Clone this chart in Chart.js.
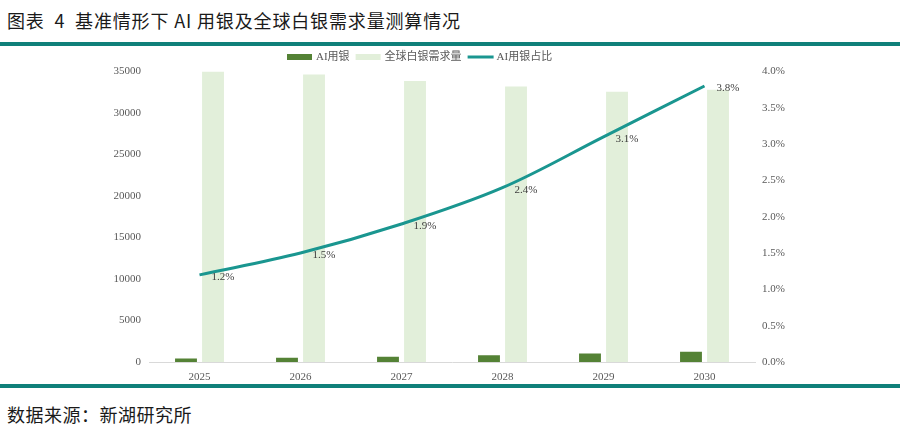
<!DOCTYPE html>
<html>
<head>
<meta charset="utf-8">
<script src="https://cdn.jsdelivr.net/npm/chart.js@4.4.0/dist/chart.umd.min.js"></script>
<style>
  html, body { margin: 0; padding: 0; background: #fff; }
  #page { position: relative; width: 900px; height: 426px; overflow: hidden; }
  .title { position: absolute; left: 7px; top: 7px; font: 18px "Noto Sans CJK SC", "Noto Sans", sans-serif; letter-spacing: 0.85px; color: #1a1a1a; line-height: 26px; white-space: pre; }
  .rule { position: absolute; left: 0; width: 900px; height: 4px; background: #10807a; }
  .source { position: absolute; left: 7px; top: 401px; font: 18px "Noto Sans CJK SC", sans-serif; letter-spacing: 0.5px; color: #1a1a1a; line-height: 26px; white-space: nowrap; }
  #wrap { position: absolute; left: 0; top: 46px; width: 900px; height: 338px; }
</style>
</head>
<body>
<div id="page">
  <div class="title">图表  4  基准情形下 AI 用银及全球白银需求量测算情况</div>
  <div class="rule" style="top:42px"></div>
  <div id="wrap"><canvas id="myChart"></canvas></div>
  <div class="rule" style="top:384px"></div>
  <div class="source">数据来源：新湖研究所</div>
</div>
<script>
const years = ["2025", "2026", "2027", "2028", "2029", "2030"];
const aiSilver = [420, 520, 640, 800, 1010, 1250];
const totalSilver = [35000, 34650, 33850, 33200, 32550, 32800];
const aiShare = [1.2, 1.5, 1.9, 2.4, 3.1, 3.8];
const seriesNames = ["AI用银", "全球白银需求量", "AI用银占比"];

const tickFont = { family: "'Liberation Serif', 'Noto Sans CJK SC', serif", size: 11 };
const textFont = "11px 'Liberation Serif', 'Noto Sans CJK SC', serif";

// legend drawn by hand so it can sit where the original sits
const legendPlugin = {
  id: "ownLegend",
  afterDraw(chart) {
    const ctx = chart.ctx;
    let x = 287;
    const y = 11;
    ctx.save();
    ctx.font = textFont;
    ctx.textBaseline = "middle";
    chart.data.datasets.forEach((ds) => {
      if (ds.type === "line") {
        ctx.strokeStyle = ds.borderColor;
        ctx.lineWidth = 3;
        ctx.beginPath();
        ctx.moveTo(x, y);
        ctx.lineTo(x + 26, y);
        ctx.stroke();
      } else {
        ctx.fillStyle = ds.backgroundColor;
        ctx.fillRect(x, y - 3, 25, 6);
      }
      x += 29;
      ctx.fillStyle = "#595959";
      ctx.fillText(ds.label, x, y + 0.5);
      x += ctx.measureText(ds.label).width + 6;
    });
    ctx.restore();
  },
};

// percentage labels beside the line points
const pointLabels = {
  id: "pointLabels",
  afterDatasetsDraw(chart) {
    const ctx = chart.ctx;
    const meta = chart.getDatasetMeta(2);
    ctx.save();
    ctx.font = textFont;
    ctx.fillStyle = "#404040";
    ctx.textBaseline = "middle";
    meta.data.forEach((pt, i) => {
      ctx.fillText(aiShare[i].toFixed(1) + "%", pt.x + 12, pt.y + 2);
    });
    ctx.restore();
  },
};

new Chart("myChart", {
  data: {
    labels: years,
    datasets: [
      {
        type: "bar",
        label: seriesNames[0],
        data: aiSilver,
        backgroundColor: "#548235",
        yAxisID: "y",
        order: 2,
      },
      {
        type: "bar",
        label: seriesNames[1],
        data: totalSilver,
        backgroundColor: "#e2efda",
        yAxisID: "y",
        order: 3,
      },
      {
        type: "line",
        label: seriesNames[2],
        data: aiShare,
        borderColor: "#1a9690",
        borderWidth: 3,
        pointRadius: 0,
        tension: 0.35,
        yAxisID: "y1",
        order: 1,
      },
    ],
  },
  options: {
    animation: false,
    responsive: true,
    maintainAspectRatio: false,
    layout: { padding: { top: 25.5, left: 0, right: 0, bottom: 0 } },
    datasets: {
      bar: { categoryPercentage: 0.535, barPercentage: 0.81 },
    },
    plugins: {
      legend: { display: false },
      tooltip: { enabled: false },
    },
    scales: {
      x: {
        grid: { display: false, drawTicks: false },
        border: { display: true, color: "#d9d9d9", width: 1 },
        ticks: { color: "#595959", font: tickFont, padding: 9 },
        afterFit: (s) => { s.height = 22; },
      },
      y: {
        position: "left",
        min: 0,
        max: 35000,
        grid: { display: false, drawTicks: false },
        border: { display: false },
        ticks: {
          stepSize: 5000,
          color: "#595959",
          font: tickFont,
          padding: 8,
          callback: (v) => String(v),
        },
        afterFit: (s) => { s.width = 149; },
      },
      y1: {
        position: "right",
        min: 0,
        max: 4,
        grid: { display: false, drawTicks: false },
        border: { display: false },
        ticks: {
          stepSize: 0.5,
          color: "#595959",
          font: tickFont,
          padding: 7,
          callback: (v) => v.toFixed(1) + "%",
        },
        afterFit: (s) => { s.width = 145; },
      },
    },
  },
  plugins: [legendPlugin, pointLabels],
});
</script>
</body>
</html>
